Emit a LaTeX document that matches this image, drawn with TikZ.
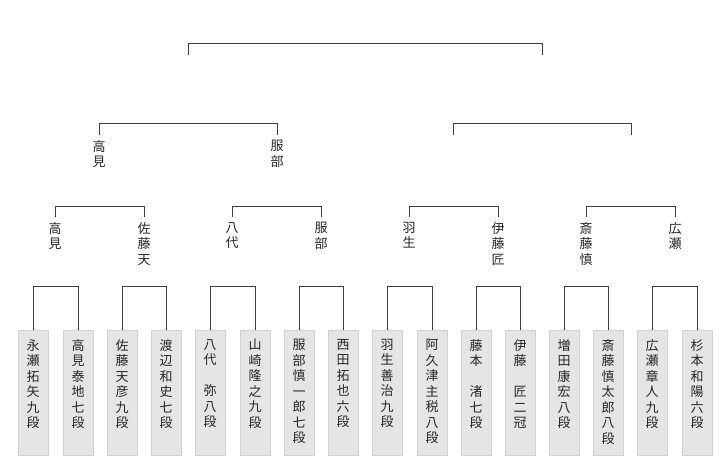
\documentclass[tikz,border=0pt]{standalone}
\usepackage{fontspec}
\setmainfont{Noto Sans CJK JP}
\begin{document}
\begin{tikzpicture}[x=1pt,y=-1pt,
  br/.style={draw=black!75,line width=0.9pt},
  pbox/.style={fill=black!10,draw=black!18,line width=0.8pt,minimum width=30pt,minimum height=125pt,anchor=north,inner sep=0pt},
  vtxt/.style={anchor=north,align=center,inner sep=0pt,font=\fontsize{13}{15.5}\selectfont,text=black!85}]
\useasboundingbox (0,0) rectangle (720,467);
% top
\draw[br] (188,55) |- (542,43) -- (542,55);
\draw[br] (99,135) |- (277,123) -- (277,135);
\draw[br] (453,135) |- (631,123) -- (631,135);
\node[vtxt] (l1a) at (99,140) {高\\見};
\node[vtxt] (l1b) at (277,140) {服\\部};
% level 2
\foreach \a/\b in {55/144,232/321,409/498,586/675}
  \draw[br] (\a,217) |- (\b,206) -- (\b,217);
\node[vtxt] (m1) at (55,222) {高\\見};
\node[vtxt] (m2) at (144,222) {佐\\藤\\天};
\node[vtxt] (m3) at (232,222) {八\\代};
\node[vtxt] (m4) at (321,222) {服\\部};
\node[vtxt] (m5) at (409,222) {羽\\生};
\node[vtxt] (m6) at (498,222) {伊\\藤\\匠};
\node[vtxt] (m7) at (586,222) {斎\\藤\\慎};
\node[vtxt] (m8) at (675,222) {広\\瀬};
% level 3 brackets
\foreach \a/\b in {33/78,122/166,210/255,299/343,387/432,476/520,564/608,652/697}
  \draw[br] (\a,330) |- (\b,286) -- (\b,330);
% boxes
\foreach \x/\t [count=\i] in {
 33/{永\\瀬\\拓\\矢\\九\\段},
 78/{高\\見\\泰\\地\\七\\段},
 122/{佐\\藤\\天\\彦\\九\\段},
 166/{渡\\辺\\和\\史\\七\\段},
 210/{八\\代\\\phantom{八}\\弥\\八\\段},
 255/{山\\崎\\隆\\之\\九\\段},
 299/{服\\部\\慎\\一\\郎\\七\\段},
 343/{西\\田\\拓\\也\\六\\段},
 387/{羽\\生\\善\\治\\九\\段},
 432/{阿\\久\\津\\主\\税\\八\\段},
 476/{藤\\本\\\phantom{八}\\渚\\七\\段},
 520/{伊\\藤\\\phantom{八}\\匠\\二\\冠},
 564/{増\\田\\康\\宏\\八\\段},
 608/{斎\\藤\\慎\\太\\郎\\八\\段},
 652/{広\\瀬\\章\\人\\九\\段},
 697/{杉\\本\\和\\陽\\六\\段}} {
  \node[pbox] (b\i) at (\x,330) {};
  \node[vtxt] (t\i) at (\x,339) {\t};
}
\end{tikzpicture}
\end{document}
